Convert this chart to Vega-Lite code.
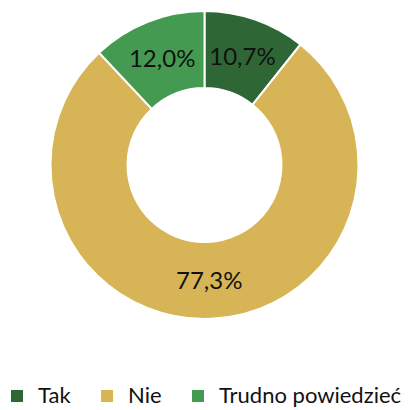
{
  "$schema": "https://vega.github.io/schema/vega-lite/v6.json",
  "width": 409,
  "height": 330,
  "autosize": "none",
  "padding": {"top": 0, "left": 0, "right": 0, "bottom": 80},
  "background": "white",
  "config": {"view": {"stroke": null}},
  "data": {
    "values": [
      {"kategoria": "Tak", "procent": 10.7, "etykieta": "10,7%", "kolejnosc": 1},
      {"kategoria": "Nie", "procent": 77.3, "etykieta": "77,3%", "kolejnosc": 2},
      {"kategoria": "Trudno powiedzieć", "procent": 12.0, "etykieta": "12,0%", "kolejnosc": 3}
    ]
  },
  "encoding": {
    "theta": {"field": "procent", "type": "quantitative", "stack": true},
    "order": {"field": "kolejnosc", "type": "quantitative"}
  },
  "layer": [
    {
      "mark": {"type": "arc", "outerRadius": 154, "innerRadius": 77, "stroke": "white", "strokeWidth": 2},
      "encoding": {
        "color": {
          "field": "kategoria",
          "type": "nominal",
          "sort": ["Tak", "Nie", "Trudno powiedzieć"],
          "scale": {"domain": ["Tak", "Nie", "Trudno powiedzieć"], "range": ["#2E6636", "#D7B556", "#459A51"]},
          "legend": {
            "title": null,
            "orient": "none",
            "direction": "horizontal",
            "legendX": 6,
            "legendY": 385,
            "symbolType": "square",
            "symbolSize": 144,
            "symbolStrokeWidth": 0,
            "labelFont": "Lato",
            "labelFontSize": 22,
            "labelColor": "#111111",
            "labelOffset": 10,
            "labelLimit": 0,
            "columnPadding": 25,
            "gridAlign": "none"
          }
        }
      }
    },
    {
      "mark": {"type": "text", "radius": 115, "font": "Lato", "fontSize": 24, "color": "#111111", "baseline": "middle", "align": "center", "dy": 2},
      "encoding": {
        "text": {"field": "etykieta", "type": "nominal"}
      }
    }
  ]
}
